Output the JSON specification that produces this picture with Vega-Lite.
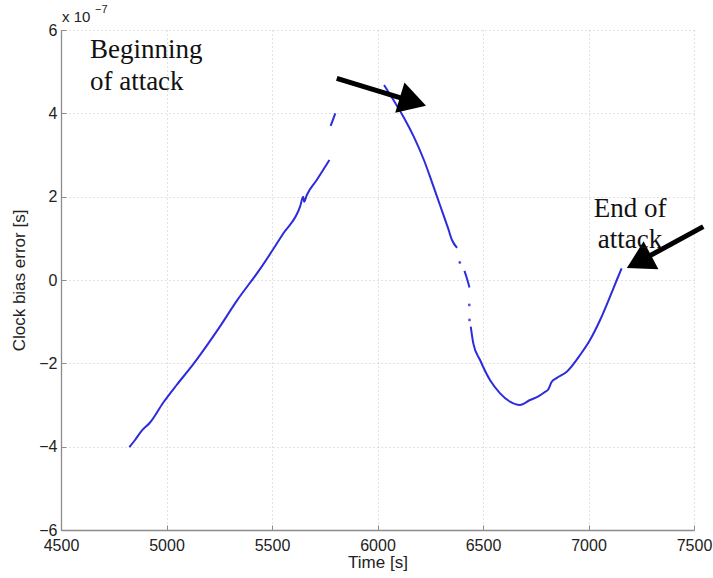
{
  "$schema": "https://vega.github.io/schema/vega-lite/v6.json",
  "width": 633,
  "height": 500,
  "autosize": {"type": "none"},
  "padding": {"left": 61, "top": 30, "right": 19, "bottom": 48},
  "background": "white",
  "config": {
    "view": {"stroke": null},
    "axis": {
      "domainColor": "#8c8c8c",
      "domainWidth": 1.3,
      "tickColor": "#8c8c8c",
      "tickSize": -5,
      "labelPadding": 9,
      "labelFont": "Liberation Sans",
      "labelFontSize": 16,
      "labelColor": "#222222",
      "titleFont": "Liberation Sans",
      "titleFontSize": 17,
      "titleFontWeight": "normal",
      "titleColor": "#222222",
      "grid": true,
      "gridColor": "#c4c4c4",
      "gridDash": [1, 3],
      "gridWidth": 1
    }
  },
  "datasets": {
    "curve": [
      {"seg": "A", "t": 4824, "v": -4.01},
      {"seg": "A", "t": 4851, "v": -3.84},
      {"seg": "A", "t": 4882, "v": -3.62},
      {"seg": "A", "t": 4922, "v": -3.42},
      {"seg": "A", "t": 4985, "v": -2.94},
      {"seg": "A", "t": 5048, "v": -2.52},
      {"seg": "A", "t": 5127, "v": -2.02},
      {"seg": "A", "t": 5190, "v": -1.58},
      {"seg": "A", "t": 5245, "v": -1.18},
      {"seg": "A", "t": 5333, "v": -0.5},
      {"seg": "A", "t": 5443, "v": 0.26},
      {"seg": "A", "t": 5554, "v": 1.12},
      {"seg": "A", "t": 5633, "v": 1.76},
      {"seg": "A", "t": 5648, "v": 2.0},
      {"seg": "A", "t": 5652, "v": 1.88},
      {"seg": "A", "t": 5665, "v": 2.04},
      {"seg": "A", "t": 5712, "v": 2.4},
      {"seg": "A", "t": 5772, "v": 2.88},
      {"seg": "B", "t": 5778, "v": 3.7},
      {"seg": "B", "t": 5800, "v": 4.0},
      {"seg": "C", "t": 6031, "v": 4.68},
      {"seg": "C", "t": 6078, "v": 4.3},
      {"seg": "C", "t": 6126, "v": 3.89},
      {"seg": "C", "t": 6173, "v": 3.43},
      {"seg": "C", "t": 6220, "v": 2.88},
      {"seg": "C", "t": 6258, "v": 2.35},
      {"seg": "C", "t": 6296, "v": 1.8},
      {"seg": "C", "t": 6334, "v": 1.25},
      {"seg": "C", "t": 6353, "v": 0.96},
      {"seg": "C", "t": 6377, "v": 0.77},
      {"seg": "D", "t": 6412, "v": 0.22},
      {"seg": "D", "t": 6425, "v": 0.02},
      {"seg": "D", "t": 6436, "v": -0.18},
      {"seg": "E", "t": 6442, "v": -1.12},
      {"seg": "E", "t": 6454, "v": -1.52},
      {"seg": "E", "t": 6486, "v": -1.92},
      {"seg": "E", "t": 6533, "v": -2.4},
      {"seg": "E", "t": 6581, "v": -2.72},
      {"seg": "E", "t": 6628, "v": -2.92},
      {"seg": "E", "t": 6675, "v": -3.0},
      {"seg": "E", "t": 6723, "v": -2.88},
      {"seg": "E", "t": 6760, "v": -2.8},
      {"seg": "E", "t": 6790, "v": -2.7},
      {"seg": "E", "t": 6810, "v": -2.62},
      {"seg": "E", "t": 6825, "v": -2.45},
      {"seg": "E", "t": 6850, "v": -2.35},
      {"seg": "E", "t": 6897, "v": -2.2},
      {"seg": "E", "t": 6960, "v": -1.8},
      {"seg": "E", "t": 7007, "v": -1.44},
      {"seg": "E", "t": 7055, "v": -0.96},
      {"seg": "E", "t": 7102, "v": -0.4},
      {"seg": "E", "t": 7134, "v": 0.0},
      {"seg": "E", "t": 7157, "v": 0.28}
    ],
    "dots": [
      {"t": 6390, "v": 0.42},
      {"t": 6435, "v": -0.6},
      {"t": 6436, "v": -0.96}
    ],
    "shafts": [
      {"t": 5807, "v": 4.84, "t2": 6168, "v2": 4.28},
      {"t": 7544, "v": 1.28, "t2": 7239, "v2": 0.44}
    ],
    "head1": [{"t": 6168, "v": 4.28}],
    "head2": [{"t": 7239, "v": 0.44}],
    "notesLeft": [
      {"t": 4637, "v": 5.33, "label": "Beginning"},
      {"t": 4637, "v": 4.56, "label": "of attack"}
    ],
    "notesCenter": [
      {"t": 7197, "v": 1.51, "label": "End of"},
      {"t": 7197, "v": 0.77, "label": "attack"}
    ],
    "exp": [{"t": 4500, "v": 6, "label": "x 10", "sup": "−7"}]
  },
  "encoding": {
    "x": {
      "field": "t",
      "type": "quantitative",
      "scale": {"domain": [4500, 7500], "nice": false, "zero": false},
      "axis": {"values": [4500, 5000, 5500, 6000, 6500, 7000, 7500], "format": "d", "title": "Time [s]", "labelPadding": 12, "titlePadding": 1, "labelFlush": false}
    },
    "y": {
      "field": "v",
      "type": "quantitative",
      "scale": {"domain": [-6, 6], "nice": false, "zero": false},
      "axis": {"values": [-6, -4, -2, 0, 2, 4, 6], "title": "Clock bias error [s]", "titlePadding": 10, "labelFlush": false}
    }
  },
  "layer": [
    {
      "data": {"name": "curve"},
      "mark": {"type": "line", "color": "#2c2cdc", "strokeWidth": 2, "interpolate": "monotone"},
      "encoding": {"detail": {"field": "seg", "type": "nominal"}}
    },
    {
      "data": {"name": "dots"},
      "mark": {"type": "circle", "color": "#2c2cdc", "size": 8, "opacity": 0.8}
    },
    {
      "data": {"name": "shafts"},
      "mark": {"type": "rule", "color": "#000000", "strokeWidth": 5},
      "encoding": {
        "x2": {"field": "t2"},
        "y2": {"field": "v2"}
      }
    },
    {
      "data": {"name": "head1"},
      "mark": {"type": "point", "shape": "triangle-right", "filled": true, "color": "#000000", "opacity": 1, "size": 1000, "angle": 17}
    },
    {
      "data": {"name": "head2"},
      "mark": {"type": "point", "shape": "triangle-right", "filled": true, "color": "#000000", "opacity": 1, "size": 1000, "angle": 152}
    },
    {
      "data": {"name": "notesLeft"},
      "mark": {"type": "text", "align": "left", "baseline": "alphabetic", "font": "Liberation Serif", "fontSize": 27, "color": "#111111"},
      "encoding": {"text": {"field": "label"}}
    },
    {
      "data": {"name": "notesCenter"},
      "mark": {"type": "text", "align": "center", "baseline": "alphabetic", "font": "Liberation Serif", "fontSize": 27, "color": "#111111"},
      "encoding": {"text": {"field": "label"}}
    },
    {
      "data": {"name": "exp"},
      "mark": {"type": "text", "align": "left", "baseline": "alphabetic", "font": "Liberation Sans", "fontSize": 15, "color": "#222222", "dx": 1, "dy": -8},
      "encoding": {"text": {"field": "label"}}
    },
    {
      "data": {"name": "exp"},
      "mark": {"type": "text", "align": "left", "baseline": "alphabetic", "font": "Liberation Sans", "fontSize": 11, "color": "#222222", "dx": 34, "dy": -17},
      "encoding": {"text": {"field": "sup"}}
    }
  ]
}
